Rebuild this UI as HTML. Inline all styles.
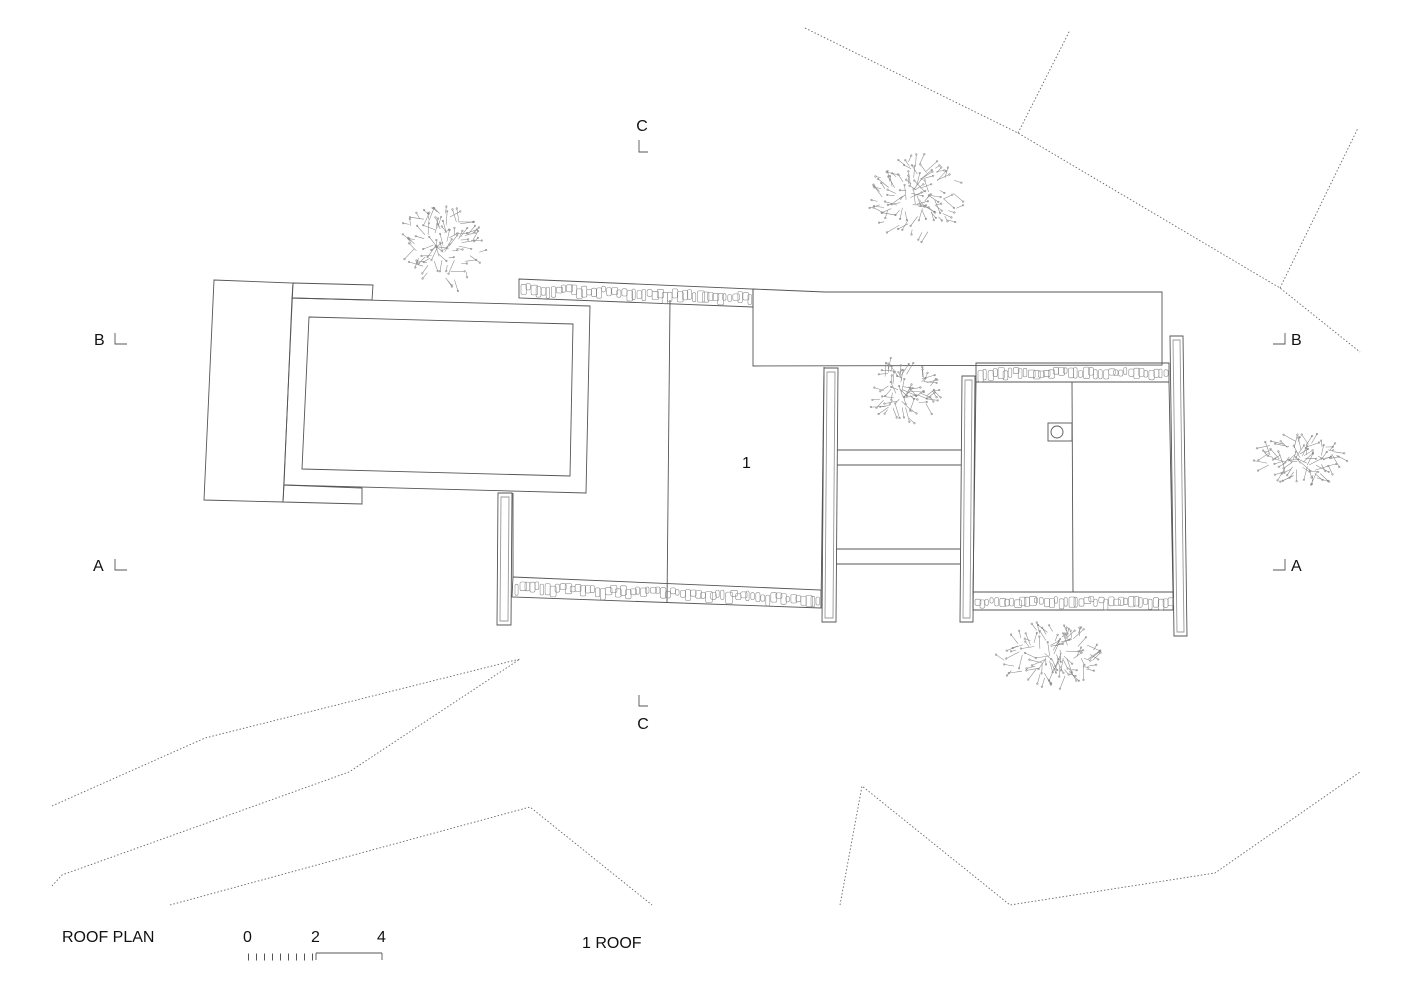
<!DOCTYPE html>
<html><head><meta charset="utf-8"><style>
html,body{margin:0;padding:0;background:#fff;}
svg{display:block;}
text{font-family:"Liberation Sans",sans-serif;fill:#111;}
</style></head><body>
<svg id="s" width="1415" height="1000" viewBox="0 0 1415 1000" xmlns="http://www.w3.org/2000/svg">
<g fill="none" stroke="#555" stroke-width="0.9">
<polygon points="214,280 293,283 283,502 204,500"/>
<polygon points="293,283 373,285 372,300 292,298"/>
<polygon points="284,485 362,488 362,504 283,502"/>
<polygon points="292,298 590,306 586,493 284,485"/>
<polygon points="309,317 573,324 570,476 302,469"/>
<polygon points="519,279 753,289 753,307 519,298"/>
<line x1="513" y1="493" x2="513" y2="577"/>
<line x1="670" y1="300" x2="667" y2="603"/>
<line x1="824" y1="367" x2="821" y2="608"/>
<polygon points="513,577 821,590 821,608 512,597"/>
<polygon points="498,493 512,493 511,625 497,625"/>
<polygon points="501,497 509,497 508,621 500,621" stroke="#999"/>
<polygon points="753,289 825,292 1162,292 1162,365 753,366"/>
<polygon points="824,368 838,368 836,622 822,622"/>
<polygon points="827,372 835,372 833,618 825,618" stroke="#999"/>
<polygon points="962,376 975,376 973,622 960,622"/>
<polygon points="965,380 972,380 970,618 963,618" stroke="#999"/>
<polygon points="1170,336 1183,336 1187,636 1174,636"/>
<polygon points="1173,340 1180,340 1184,632 1177,632" stroke="#999"/>
<line x1="837" y1="450" x2="961" y2="450"/><line x1="837" y1="465" x2="961" y2="465"/>
<line x1="836" y1="549" x2="960" y2="549"/><line x1="836" y1="564" x2="960" y2="564"/>
<polygon points="976,363 1169,363 1169,382 976,382"/>
<line x1="976" y1="382" x2="973" y2="592"/>
<line x1="1169" y1="382" x2="1173" y2="592"/>
<line x1="1072" y1="382" x2="1073" y2="592"/>
<polygon points="973,592 1173,592 1173,610 973,610"/>
<rect x="1048" y="423" width="24" height="18"/>
<circle cx="1057" cy="432" r="6"/>
<polyline points="639,140 639,152 648,152"/>
<polyline points="115,333 115,344 127,344"/>
<polyline points="115,559 115,570 127,570"/>
<polyline points="1285,333 1285,344 1273,344"/>
<polyline points="1285,559 1285,570 1273,570"/>
<polyline points="639,695 639,706 648,706"/>
</g>
<g fill="none" stroke="#666" stroke-width="0.9" stroke-dasharray="1.5,2">
<polyline points="805,28 1018,133 1280,288 1360,352"/>
<polyline points="1018,133 1070,30"/>
<polyline points="1280,288 1358,128"/>
<polyline points="52,806 205,738 520,659"/>
<polyline points="52,886 62,875 349,772 520,659"/>
<polyline points="170,905 530,807 652,905"/>
<polyline points="840,905 862,786 1010,905 1215,873 1360,772"/>
</g>
<g id="trees" fill="none" stroke="#888" stroke-width="0.55"></g>
<g fill="none" stroke="#555" stroke-width="0.9">
<line x1="316" y1="953" x2="382" y2="953"/><line x1="382" y1="953" x2="382" y2="960"/><line x1="316" y1="953" x2="316" y2="960"/>
<g stroke-dasharray="1,7"><line x1="248" y1="957" x2="316" y2="957" stroke-width="7"/></g>
</g>
<text x="642" y="131" font-size="16" text-anchor="middle">C</text>
<text x="643" y="729" font-size="16" text-anchor="middle">C</text>
<text x="94" y="345" font-size="16">B</text>
<text x="1291" y="345" font-size="16">B</text>
<text x="93" y="571" font-size="16">A</text>
<text x="1291" y="571" font-size="16">A</text>
<text x="742" y="468" font-size="16">1</text>
<text x="62" y="942" font-size="16">ROOF PLAN</text>
<text x="243" y="942" font-size="16">0</text>
<text x="311" y="942" font-size="16">2</text>
<text x="377" y="942" font-size="16">4</text>
<text x="582" y="948" font-size="16">1  ROOF</text>
</svg>
<script>
(function(){
var g=document.getElementById('trees');var seed=7;var NS='http://www.w3.org/2000/svg';
function r(){seed=(seed*16807)%2147483647;return seed/2147483647;}
function tree(cx,cy,rx,ry,n){
 for(var i=0;i<n;i++){
  var a=r()*6.283,d=Math.sqrt(r());
  var x=cx+Math.cos(a)*rx*d,y=cy+Math.sin(a)*ry*d;
  var b=a+(r()-0.5)*1.5,l=5+r()*10;
  var ln=document.createElementNS(NS,'line');
  ln.setAttribute('x1',x.toFixed(1));ln.setAttribute('y1',y.toFixed(1));
  ln.setAttribute('x2',(x-Math.cos(b)*l).toFixed(1));ln.setAttribute('y2',(y-Math.sin(b)*l).toFixed(1));
  g.appendChild(ln);
  var c=document.createElementNS(NS,'circle');
  c.setAttribute('cx',x.toFixed(1));c.setAttribute('cy',y.toFixed(1));c.setAttribute('r','0.8');
  g.appendChild(c);
 }}
tree(440,250,48,45,90);
tree(918,198,50,45,100);
tree(905,390,40,35,75);
tree(1300,460,48,28,80);
tree(1050,655,55,35,95);
function peb(x1,y1,x2,y2,h){var n=Math.round((x2-x1)/5);for(var i=0;i<n;i++){var t=i/n;var x=x1+(x2-x1)*t+1,y=y1+(y2-y1)*t+3+r()*4;var rc=document.createElementNS(NS,'rect');rc.setAttribute('x',x.toFixed(1));rc.setAttribute('y',y.toFixed(1));rc.setAttribute('width',(3+r()*4).toFixed(1));rc.setAttribute('height',(h*0.3+r()*h*0.35).toFixed(1));rc.setAttribute('rx','1.5');g.appendChild(rc);}}
peb(520,280,752,289,18);peb(514,578,820,591,18);peb(977,364,1168,364,18);peb(974,593,1172,593,17);
})();
</script>
</body></html>
